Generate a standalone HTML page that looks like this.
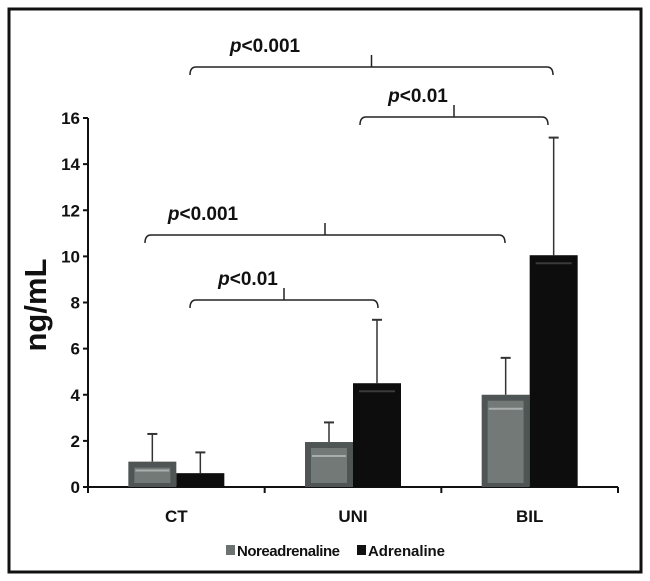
<!DOCTYPE html>
<html><head><meta charset="utf-8"><style>
body{margin:0;background:#fff}
svg{display:block;font-family:"Liberation Sans",Arial,sans-serif;font-weight:bold}
</style></head><body>
<svg width="650" height="581" viewBox="0 0 650 581">
<rect x="9" y="9" width="632" height="563" fill="#fff" stroke="#111" stroke-width="3"/>
<g id="plot"></g>
<text transform="translate(46,305) rotate(-90)" text-anchor="middle" font-size="31" fill="#111">ng/mL</text>
<g>
<rect x="226" y="545" width="9" height="10" fill="#6d7371"/>
<text x="237" y="556" font-size="15" fill="#111" textLength="103">Noreadrenaline</text>
<rect x="357" y="545" width="9" height="10" fill="#111"/>
<text x="368" y="556" font-size="15" fill="#111" textLength="77">Adrenaline</text>
</g>
</svg>
<script>
const categories=["CT","UNI","BIL"];
const noreValues=[1.1,1.95,4.0];
const adrValues=[0.6,4.5,10.05];
const noreErr=[2.3,2.8,5.6];
const adrErr=[1.5,7.25,15.15];
const yTicks=[0,2,4,6,8,10,12,14,16];
const NS="http://www.w3.org/2000/svg";
const g=document.getElementById('plot');
const x0=88,x1=618,y0=487,y16=118;
const y=v=>y0-(v/16)*(y0-y16);
const cw=(x1-x0)/categories.length;
const cx=i=>x0+cw*(i+0.5);
function mk(t,a,txt){const e=document.createElementNS(NS,t);for(const k in a)e.setAttribute(k,a[k]);if(txt!==undefined)e.textContent=txt;g.appendChild(e);return e;}
let e;
e=mk('line',{x1:x0,y1:y0,x2:x1,y2:y0,stroke:'#111','stroke-width':2});


e=mk('line',{x1:x0,y1:y16,x2:x0,y2:y0,stroke:'#111','stroke-width':2});


yTicks.forEach(v=>{
 e=mk('line',{x1:x0-5,y1:y(v),x2:x0,y2:y(v),stroke:'#111','stroke-width':2});
 
 
 e=mk('text',{x:x0-8,y:y(v)+6,'text-anchor':'end','font-size':17,fill:'#111'},v);
 
 
});
for(let i=0;i<=categories.length;i++){
 e=mk('line',{x1:x0+cw*i,y1:y0,x2:x0+cw*i,y2:y0+6,stroke:'#111','stroke-width':2});
 
 
}
const bw=48;
function bar(xl,v,err,nore,name){
 const top=y(v);
 e=mk('line',{x1:xl+bw/2,y1:y(err),x2:xl+bw/2,y2:top,stroke:'#333','stroke-width':1.5});
 
 
 e=mk('line',{x1:xl+bw/2-5,y1:y(err),x2:xl+bw/2+5,y2:y(err),stroke:'#333','stroke-width':2});
 
 
 e=mk('rect',{x:xl,y:top,width:bw,height:y0-top,fill:nore?'#4f5554':'#0d0d0d'});
 
 
 const h=y0-top;
 if(nore&&h>10){
  e=mk('rect',{x:xl+6,y:top+6,width:bw-12,height:h-10,fill:'#737977'});
  
  
  e=mk('line',{x1:xl+7,y1:top+Math.min(h*0.35,14),x2:xl+bw-7,y2:top+Math.min(h*0.35,14),stroke:'#a9aead','stroke-width':2});
  
  
 } else if(!nore&&h>20){
  e=mk('line',{x1:xl+6,y1:top+8,x2:xl+bw-6,y2:top+8,stroke:'#3a3a3a','stroke-width':2});
  
  
 }
}
categories.forEach((c,i)=>{
 bar(cx(i)-bw,noreValues[i],noreErr[i],true,'bar-noreadrenaline-'+c.toLowerCase());
 bar(cx(i),adrValues[i],adrErr[i],false,'bar-adrenaline-'+c.toLowerCase());
 e=mk('text',{x:cx(i),y:y0+35,'text-anchor':'middle','font-size':17,fill:'#111'},c);
 
 
});
const brackets=[[190,553,67,'<0.001',265],[360,548,117,'<0.01',418],[145,505,235,'<0.001',203],[190,378,300,'<0.01',248]];
brackets.forEach((b,k)=>{
 const [a,c,yy,t,tx]=b, m=(a+c)/2;
 e=mk('path',{d:`M${a},${yy+8} Q${a},${yy} ${a+6},${yy} L${c-6},${yy} Q${c},${yy} ${c},${yy+8} M${m},${yy} L${m},${yy-12}`,fill:'none',stroke:'#222','stroke-width':1.5});
 
 
 const tt=mk('text',{x:tx,y:yy-15,'text-anchor':'middle','font-size':19,fill:'#111'});
 tt.innerHTML='<tspan font-style="italic">p</tspan>'+t;
 
 
});
</script>
</body></html>
